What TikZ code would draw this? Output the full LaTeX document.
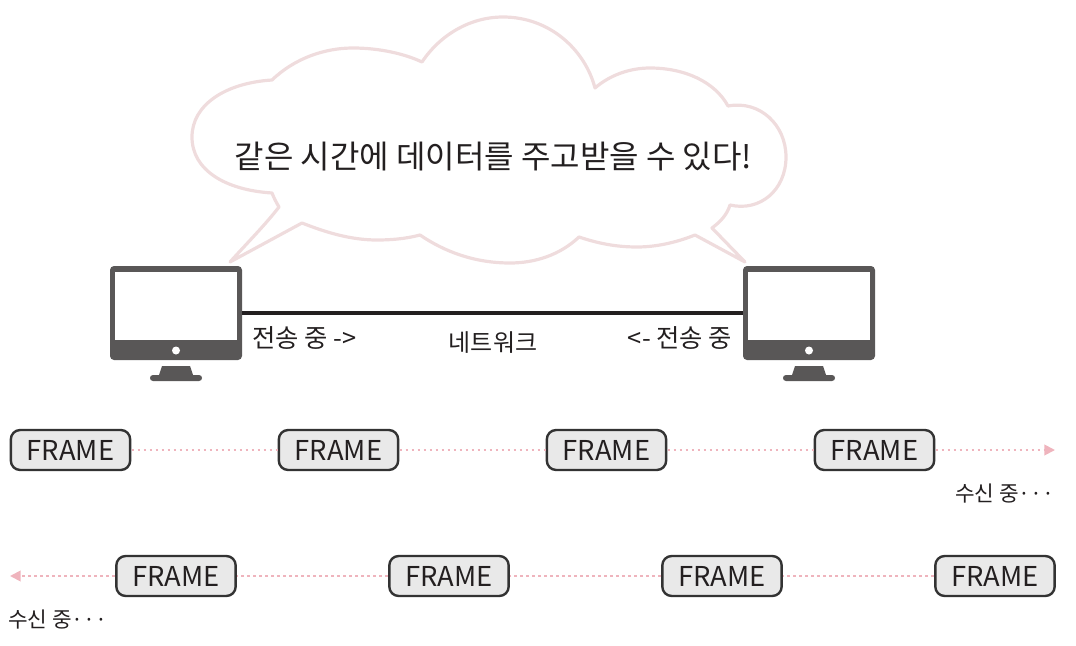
\documentclass[tikz,border=0pt]{standalone}
\usepackage{fontspec}
\setmainfont{Noto Sans CJK KR}
\usetikzlibrary{arrows.meta}
\definecolor{cloudpink}{HTML}{EFDCDD}
\definecolor{dotpink}{HTML}{EFB4BD}
\definecolor{pcgray}{HTML}{595757}
\definecolor{framefill}{HTML}{E9E9E9}
\definecolor{frameline}{HTML}{333333}
\definecolor{inkdark}{HTML}{231F20}
\tikzset{
  framebox/.style={draw=frameline,fill=framefill,line width=1.8pt,rounded corners=7pt,
    minimum width=89.5pt,minimum height=30pt,inner sep=0pt,outer sep=1pt,
    font=\fontsize{20.5}{20.5}\selectfont,text=inkdark},
  monitor/.style={fill=pcgray,rounded corners=3pt,minimum width=99pt,minimum height=70.5pt,inner sep=0pt,outer sep=0pt},
  pcscreen/.style={fill=white,minimum width=91.5pt,minimum height=51pt,inner sep=0pt},
  pcdot/.style={fill=white,circle,minimum size=6pt,inner sep=0pt},
  dotline/.style={draw=dotpink,line width=1.4pt,dash pattern=on 2.2pt off 2.3pt},
  dotarrow/.style={dotline,-{Triangle[length=8pt,width=8pt,fill=dotpink]}},
  smalltext/.style={font=\fontsize{19}{19}\selectfont,text=inkdark,inner sep=0pt},
  recvtext/.style={font=\fontsize{16}{16}\selectfont,text=inkdark,inner sep=0pt},
}
\begin{document}
\begin{tikzpicture}[x=0.75pt,y=-0.75pt]
\useasboundingbox (0,0) rectangle (1076,646);
% cloud
\draw[cloudpink,line width=2.4pt,line join=round]
 (230,262) .. controls (250,240) and (265,225) .. (279,207)
 .. controls (276,202) and (274,198) .. (272,193)
 .. controls (225,190) and (192,170) .. (192,137)
 .. controls (192,105) and (225,83) .. (272,80)
 .. controls (295,58) and (325,48) .. (353,48)
 .. controls (380,48) and (405,54) .. (422,62)
 .. controls (440,35) and (470,17) .. (503,17)
 .. controls (550,17) and (585,50) .. (595,88)
 .. controls (610,75) and (630,68) .. (650,68)
 .. controls (685,68) and (715,82) .. (728,106)
 .. controls (760,100) and (786,125) .. (786,157)
 .. controls (786,190) and (760,212) .. (730,205)
 .. controls (727,215) and (720,222) .. (712,228)
 -- (745,262) -- (695,235)
 .. controls (675,243) and (655,247) .. (637,247)
 .. controls (615,247) and (597,243) .. (579,237)
 .. controls (560,255) and (535,263) .. (510,263)
 .. controls (475,263) and (445,252) .. (420,235)
 .. controls (405,239) and (390,240) .. (377,240)
 .. controls (350,240) and (325,232) .. (302,223)
 -- cycle;
\node[font=\fontsize{24}{24}\selectfont,text=inkdark,inner sep=0pt] (title) at (493.5,157) {같은 시간에 데이터를 주고받을 수 있다!};
% monitors
\node[monitor] (pcL) at (176,313) {};
\node[monitor] (pcR) at (809,313) {};
\node[pcscreen] (scrL) at (176,306) {};
\node[pcscreen] (scrR) at (809,306) {};
\node[pcdot] (dotL) at (176,350.5) {};
\node[pcdot] (dotR) at (809,350.5) {};
\fill[pcgray] (162,366) -- (190,366) -- (193,375) -- (199,375) .. controls (203,375) and (203,381) .. (199,381) -- (153,381) .. controls (149,381) and (149,375) .. (153,375) -- (159,375) -- cycle;
\fill[pcgray] (795,366) -- (823,366) -- (826,375) -- (832,375) .. controls (836,375) and (836,381) .. (832,381) -- (786,381) .. controls (782,381) and (782,375) .. (786,375) -- (792,375) -- cycle;
\draw[inkdark,line width=2.6pt] (pcL) -- (pcR);
% labels
\node[smalltext] (sendL) at (304.5,338) {전송 중 ->};
\node[smalltext] (sendR) at (680,338) {<- 전송 중};
\node[font=\fontsize{18}{18}\selectfont,text=inkdark,inner sep=0pt] (net) at (493,343) {네트워크};
% frames
\node[framebox] (a1) at (70.5,450) {FRAME};
\node[framebox] (a2) at (338.5,450) {FRAME};
\node[framebox] (a3) at (606.5,450) {FRAME};
\node[framebox] (a4) at (874.5,450) {FRAME};
\coordinate (aend) at (1055,450);
\draw[dotline] (a1) -- (a2);
\draw[dotline] (a2) -- (a3);
\draw[dotline] (a3) -- (a4);
\draw[dotarrow] (a4) -- (aend);
\node[framebox] (b1) at (176,576) {FRAME};
\node[framebox] (b2) at (449,576) {FRAME};
\node[framebox] (b3) at (722,576) {FRAME};
\node[framebox] (b4) at (995,576) {FRAME};
\coordinate (bend) at (10,576);
\draw[dotline] (b4) -- (b3);
\draw[dotline] (b3) -- (b2);
\draw[dotline] (b2) -- (b1);
\draw[dotarrow] (b1) -- (bend);
\node[recvtext] (recvA) at (1005,494) {수신 중···};
\node[recvtext] (recvB) at (58,620) {수신 중···};
\end{tikzpicture}
\end{document}
